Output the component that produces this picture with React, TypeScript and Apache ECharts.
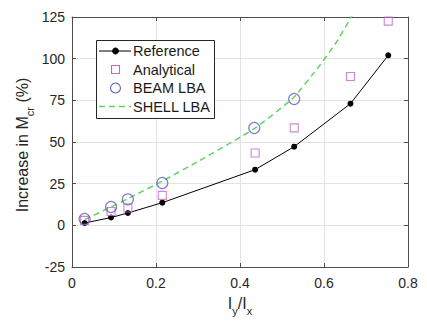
import React, { useEffect, useRef } from "react";
import * as echarts from "echarts";

const xPoints = [0.03, 0.093, 0.133, 0.215, 0.436, 0.529, 0.663, 0.753];
const referenceValues = [1.4, 4.7, 7.4, 13.6, 33.4, 47.2, 73, 102];
const analyticalValues = [3, 8.3, 10.4, 18, 43.4, 58.5, 89.3, 122.5];
const beamX = [0.03, 0.093, 0.133, 0.215, 0.434, 0.529];
const beamValues = [3.8, 11, 15.6, 25.4, 58.4, 75.8];
const shellX = [0.03, 0.093, 0.133, 0.215, 0.305, 0.434, 0.527, 0.59, 0.63, 0.666, 0.7];
const shellValues = [3.4, 11, 16, 26.5, 39, 58, 76.5, 96, 110, 125.5, 140];
const xTicks = { min: 0, max: 0.8, interval: 0.2 };
const yTicks = { min: -25, max: 125, interval: 25 };
const legendNames = ["Reference", "Analytical", "BEAM LBA", "SHELL LBA"];

const FONT = '"Liberation Sans", Arial, Helvetica, sans-serif';
const TXT = "#262626";
const AX = "#4d4d4d";
const C_REF = "#000000";
const C_AN = "#c866c8";
const C_BEAM = "#5a60b8";
const C_SHELL = "#5fd65f";

function measure(text: string, size: number): number {
  const c = document.createElement("canvas").getContext("2d");
  if (!c) return text.length * size * 0.55;
  c.font = `${size}px "Liberation Sans"`;
  return c.measureText(text).width;
}

export default function App() {
  const ref = useRef<HTMLDivElement>(null);
  useEffect(() => {
    document.body.style.margin = "0";
    if (!ref.current) return;
    const chart = echarts.init(ref.current, null, { renderer: "svg" });

    const zip = (xs: number[], ys: number[]) => xs.map((x, i) => [x, ys[i]]);

    const yMain = "Increase in M";
    const ySub = "cr";
    const yEnd = " (%)";
    const w1 = measure(yMain, 16);
    const w2 = measure(ySub, 11);
    const w3 = measure(yEnd, 16);
    const yW = w1 + w2 + w3;
    const yStart = -yW / 2;

    const xa = measure("I", 16);
    const xb = measure("y", 11);
    const xc = measure("/I", 16);
    const xd = measure("x", 11);
    const xW = xa + xb + xc + xd;
    const xStart = 240 - xW / 2;

    const txt = (text: string, x: number, y: number, size: number, extra: any = {}) => ({
      type: "text",
      x,
      y,
      z: 100,
      style: {
        text,
        fontSize: size,
        fontFamily: FONT,
        fill: TXT,
        align: "left",
        verticalAlign: "middle",
        ...extra,
      },
    });

    const legX = 96.5;
    const legY = 40.5;
    const rows = [51, 69.5, 88, 106.5];
    const mx = 115.5;

    const graphic: any[] = [
      {
        type: "group",
        x: 22.6,
        y: 145,
        rotation: Math.PI / 2,
        children: [
          txt(yMain, yStart, 0, 16),
          txt(ySub, yStart + w1, 7, 11),
          txt(yEnd, yStart + w1 + w2, 0, 16),
        ],
      },
      txt("I", xStart, 303.7, 16),
      txt("y", xStart + xa, 311, 11),
      txt("/I", xStart + xa + xb, 303.7, 16),
      txt("x", xStart + xa + xb + xc, 311, 11),
      {
        type: "rect",
        z: 100,
        shape: { x: legX, y: legY, width: 118, height: 78 },
        style: { fill: "#ffffff", stroke: TXT, lineWidth: 1 },
      },
      {
        type: "line",
        z: 101,
        shape: { x1: 99, y1: rows[0], x2: 131, y2: rows[0] },
        style: { stroke: C_REF, lineWidth: 1 },
      },
      {
        type: "circle",
        z: 101,
        shape: { cx: mx, cy: rows[0], r: 3 },
        style: { fill: C_REF, stroke: C_REF },
      },
      {
        type: "rect",
        z: 101,
        shape: { x: mx - 4, y: rows[1] - 4, width: 8, height: 8 },
        style: { fill: "#ffffff", stroke: C_AN, lineWidth: 1.1 },
      },
      {
        type: "circle",
        z: 101,
        shape: { cx: mx, cy: rows[2], r: 5 },
        style: { fill: "#ffffff", stroke: C_BEAM, lineWidth: 1.1 },
      },
      {
        type: "line",
        z: 101,
        shape: { x1: 99, y1: rows[3], x2: 131, y2: rows[3] },
        style: { stroke: C_SHELL, lineWidth: 1.5, lineDash: [6, 4] },
      },
      ...legendNames.map((n, i) => txt(n, 133, rows[i], 14.5, { fill: "#1a1a1a" })),
    ];

    const axisCommon = {
      axisLine: { show: true, onZero: false, lineStyle: { color: AX, width: 1 } },
      axisTick: { show: true, inside: true, length: 4, lineStyle: { color: AX } },
    };

    chart.setOption({
      animation: false,
      backgroundColor: "#ffffff",
      grid: { left: 72, right: 19, top: 17, bottom: 54, containLabel: false },
      xAxis: [
        {
          type: "value",
          ...xTicks,
          position: "bottom",
          ...axisCommon,
          axisLabel: { fontSize: 14, fontFamily: FONT, color: TXT, margin: 9 },
          splitLine: { show: true, lineStyle: { color: "#e3e3e3", width: 1 } },
        },
        {
          type: "value",
          ...xTicks,
          position: "top",
          ...axisCommon,
          axisLabel: { show: false },
          splitLine: { show: false },
        },
      ],
      yAxis: [
        {
          type: "value",
          ...yTicks,
          position: "left",
          ...axisCommon,
          axisLabel: { fontSize: 14, fontFamily: FONT, color: TXT, margin: 7 },
          splitLine: { show: true, lineStyle: { color: "#e3e3e3", width: 1 } },
        },
        {
          type: "value",
          ...yTicks,
          position: "right",
          ...axisCommon,
          axisLabel: { show: false },
          splitLine: { show: false },
        },
      ],
      series: [
        {
          name: "SHELL LBA",
          type: "line",
          data: zip(shellX, shellValues),
          showSymbol: false,
          symbol: "none",
          smooth: 0.15,
          clip: true,
          lineStyle: { color: C_SHELL, width: 1.5, type: [6, 4] },
          z: 3,
        },
        {
          name: "Reference",
          type: "line",
          data: zip(xPoints, referenceValues),
          symbol: "circle",
          symbolSize: 6,
          itemStyle: { color: C_REF },
          lineStyle: { color: C_REF, width: 1 },
          z: 4,
        },
        {
          name: "Analytical",
          type: "scatter",
          data: zip(xPoints, analyticalValues),
          symbol: "rect",
          symbolSize: 8,
          itemStyle: { color: "rgba(0,0,0,0)", borderColor: C_AN, borderWidth: 1.1 },
          z: 5,
        },
        {
          name: "BEAM LBA",
          type: "scatter",
          data: zip(beamX, beamValues),
          symbol: "circle",
          symbolSize: 11,
          itemStyle: { color: "rgba(0,0,0,0)", borderColor: C_BEAM, borderWidth: 1.2 },
          z: 6,
        },
      ],
      graphic,
    });
    return () => chart.dispose();
  }, []);
  return <div ref={ref} style={{ width: 427, height: 321 }} />;
}
